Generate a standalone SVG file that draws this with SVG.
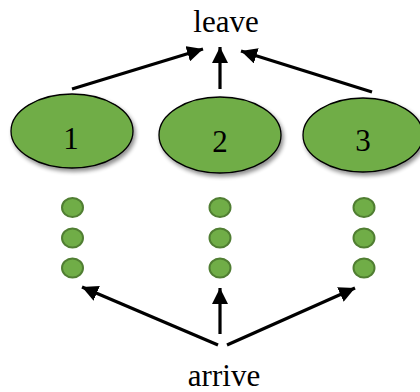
<svg xmlns="http://www.w3.org/2000/svg" width="420" height="392" viewBox="0 0 420 392">
<defs>
<filter id="sh" x="-20%" y="-20%" width="150%" height="160%">
<feGaussianBlur in="SourceAlpha" stdDeviation="2"/>
<feOffset dx="2" dy="3" result="b"/>
<feComponentTransfer><feFuncA type="linear" slope="0.45"/></feComponentTransfer>
<feMerge><feMergeNode/><feMergeNode in="SourceGraphic"/></feMerge>
</filter>
<marker id="ah" markerWidth="5" markerHeight="5" refX="5" refY="2.5" orient="auto" markerUnits="strokeWidth">
<path d="M0,0 L5,2.5 L0,5 Z" fill="#000"/>
</marker>
</defs>
<style>
.big{fill:#70AD47;stroke:#000;stroke-width:1.3}
.dot{fill:#70AD47;stroke:#507E32;stroke-width:2}
.t{font-family:"Liberation Serif","Times New Roman",serif;font-size:31px;fill:#000;text-anchor:middle}
.c{stroke:#000;stroke-width:3.2;fill:none;marker-end:url(#ah)}
</style>
<g id="leave"><text class="t" x="226" y="32">leave</text></g>
<g id="arrive"><text class="t" x="224" y="386">arrive</text></g>
<g id="n1"><ellipse class="big" cx="72" cy="131" rx="61" ry="37" filter="url(#sh)"/><text class="t" x="71" y="149">1</text></g>
<g id="n2"><ellipse class="big" cx="220" cy="135" rx="61" ry="38" filter="url(#sh)"/><text class="t" x="220" y="152">2</text></g>
<g id="n3"><ellipse class="big" cx="363" cy="135" rx="60" ry="37" filter="url(#sh)"/><text class="t" x="363" y="151">3</text></g>
<g id="q1"><ellipse class="dot" cx="72.5" cy="207.5" rx="10.5" ry="9.5"/><ellipse class="dot" cx="72.5" cy="238" rx="10.5" ry="9.5"/><ellipse class="dot" cx="72.5" cy="268" rx="10.5" ry="9.5"/></g>
<g id="q2"><ellipse class="dot" cx="220" cy="207.5" rx="10.5" ry="9.5"/><ellipse class="dot" cx="220" cy="238" rx="10.5" ry="9.5"/><ellipse class="dot" cx="220" cy="268" rx="10.5" ry="9.5"/></g>
<g id="q3"><ellipse class="dot" cx="364" cy="207.5" rx="10.5" ry="9.5"/><ellipse class="dot" cx="364" cy="238" rx="10.5" ry="9.5"/><ellipse class="dot" cx="364" cy="268" rx="10.5" ry="9.5"/></g>
<g id="connectors">
<line class="c" x1="72" y1="89" x2="203" y2="49"/>
<line class="c" x1="220" y1="89" x2="220" y2="47"/>
<line class="c" x1="372" y1="92" x2="241" y2="51"/>
<line class="c" x1="218" y1="345" x2="82" y2="287"/>
<line class="c" x1="220" y1="334" x2="220" y2="288"/>
<line class="c" x1="227" y1="345" x2="355" y2="288"/>
</g>
</svg>
